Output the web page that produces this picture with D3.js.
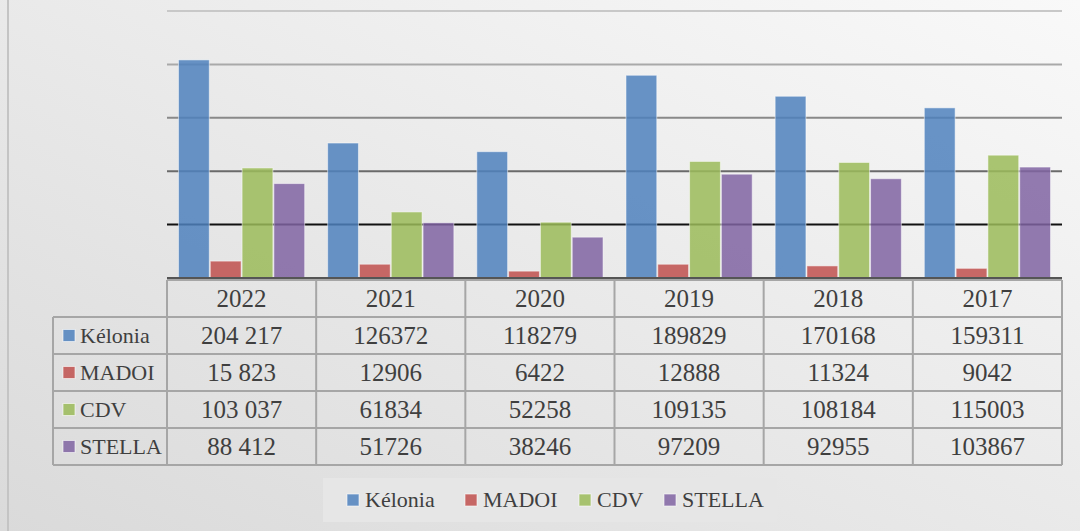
<!DOCTYPE html>
<html>
<head>
<meta charset="utf-8">
<script src="https://cdn.jsdelivr.net/npm/d3@7"></script>
<style>
  html, body { margin: 0; padding: 0; background: #fff; }
  svg { display: block; }
  text { font-family: "Liberation Serif", serif; fill: #3f3f3f; }
</style>
</head>
<body>
<svg id="chart" width="1080" height="531"></svg>
<script>
// --- data ----------------------------------------------------------------
const years  = ["2022", "2021", "2020", "2019", "2018", "2017"];
const series = ["Kélonia", "MADOI", "CDV", "STELLA"];

const kelonia = [204217, 126372, 118279, 189829, 170168, 159311];
const madoi   = [15823, 12906, 6422, 12888, 11324, 9042];
const cdv     = [103037, 61834, 52258, 109135, 108184, 115003];
const stella  = [88412, 51726, 38246, 97209, 92955, 103867];

const yTicks  = [50000, 100000, 150000, 200000, 250000];
const spacedYears = ["2022"]; // this column is written with a space as thousands separator

const colours = ["#4f81bd", "#c0504d", "#9bbb59", "#8064a2"];

const values = [kelonia, madoi, cdv, stella];
const rows = years.map((y, i) => ({ year: y, vals: series.map((s, j) => ({ key: s, v: values[j][i] })) }));

//-------------------------------------------------------------------------------

const svg = d3.select('#chart');
const W = 1080, H = 531;
const plot = { left: 167, right: 1062, top: 11, bottom: 278 };
const rowH = 37, tableLeft = 53;
const fsNum = 25, fsName = 22;

// background gradient, lighter top right
const defs = svg.append('defs');
const bg = defs.append('linearGradient').attr('id', 'bg')
    .attr('x1', '100%').attr('y1', '0%').attr('x2', '0%').attr('y2', '100%');
bg.append('stop').attr('offset', '0%').attr('stop-color', '#f9f9f9');
bg.append('stop').attr('offset', '100%').attr('stop-color', '#dadada');
svg.append('rect').attr('width', W).attr('height', H).attr('fill', 'url(#bg)');

svg.append('line')
    .attr('x1', 8).attr('x2', 8).attr('y1', 0).attr('y2', H)
    .attr('stroke', '#c4c4c4').attr('stroke-width', 2);

const x0 = d3.scaleBand().domain(years).range([plot.left, plot.right]);
const x1 = d3.scaleBand().domain(series).range([0, x0.bandwidth()]).paddingOuter(0.345);
const y  = d3.scaleLinear().domain([0, 250000]).range([plot.bottom, plot.top]);
const colour = d3.scaleOrdinal().domain(series).range(colours);

// gridlines get darker towards the bottom
const gridColour = d3.scaleLinear().domain([50000, 100000, 250000]).range(['#111', '#6a6a6a', '#c8c8c8']);

svg.append('g').selectAll('line')
    .data(yTicks)
    .join('line')
    .attr('x1', plot.left).attr('x2', plot.right)
    .attr('y1', d => y(d)).attr('y2', d => y(d))
    .attr('stroke', d => gridColour(d))
    .attr('stroke-width', 2);

// bars
svg.append('g').selectAll('g')
    .data(rows)
    .join('g')
    .attr('transform', d => `translate(${x0(d.year)},0)`)
    .selectAll('rect')
    .data(d => d.vals)
    .join('rect')
    .attr('x', d => x1(d.key) + 0.5)
    .attr('width', x1.bandwidth() - 1)
    .attr('y', d => y(d.v))
    .attr('height', d => y(0) - y(d.v))
    .attr('fill', d => colour(d.key))
    .attr('fill-opacity', 0.85)
    .attr('stroke', '#ffffff')
    .attr('stroke-opacity', 0.5)
    .attr('stroke-width', 1);

// --- data table under the plot -------------------------------------------
const tbl = svg.append('g');
const grid = '#a6a6a6';
const tableTop = plot.bottom + 2;
const tableBottom = tableTop + rowH * (series.length + 1);

// horizontal rules
tbl.selectAll('line.h')
    .data(d3.range(series.length + 2))
    .join('line')
    .attr('class', 'h')
    .attr('x1', i => i < 1 ? plot.left : tableLeft)
    .attr('x2', plot.right)
    .attr('y1', i => tableTop + i * rowH).attr('y2', i => tableTop + i * rowH)
    .attr('stroke', grid).attr('stroke-width', 2);

// vertical rules
const vx = years.map(d => x0(d)).concat([plot.right]);
tbl.selectAll('line.v')
    .data(vx)
    .join('line')
    .attr('class', 'v')
    .attr('x1', d => d).attr('x2', d => d)
    .attr('y1', tableTop).attr('y2', tableBottom)
    .attr('stroke', grid).attr('stroke-width', 2);

tbl.append('line')
    .attr('x1', tableLeft).attr('x2', tableLeft)
    .attr('y1', tableTop + rowH).attr('y2', tableBottom)
    .attr('stroke', grid).attr('stroke-width', 2);

// axis line over the top of the table
svg.append('line')
    .attr('x1', plot.left).attr('x2', plot.right)
    .attr('y1', plot.bottom).attr('y2', plot.bottom)
    .attr('stroke', '#555').attr('stroke-width', 2);

// year header
tbl.selectAll('text.year')
    .data(years)
    .join('text')
    .attr('class', 'year')
    .attr('x', d => x0(d) + x0.bandwidth() / 2)
    .attr('y', tableTop + rowH / 2)
    .attr('dy', '0.34em')
    .attr('text-anchor', 'middle')
    .attr('font-size', fsNum)
    .text(d => d);

// row labels with swatches
const rowLab = tbl.selectAll('g.rowlab')
    .data(series)
    .join('g')
    .attr('class', 'rowlab')
    .attr('transform', (d, i) => `translate(0,${tableTop + (i + 1) * rowH + rowH / 2})`);

rowLab.append('rect')
    .attr('x', 63).attr('y', -6).attr('width', 12).attr('height', 12)
    .attr('fill', d => colour(d)).attr('fill-opacity', 0.85)
    .attr('stroke', '#fff').attr('stroke-opacity', 0.6);

rowLab.append('text')
    .attr('x', 80).attr('dy', '0.34em')
    .attr('font-size', fsName)
    .text(d => d);

// cell values
const spaced = d3.formatLocale({ decimal: ',', thousands: ' ', grouping: [3], currency: ['', ''] }).format(',d');
const plain = d3.format('d');

series.forEach((s, j) => {
    tbl.append('g').selectAll('text')
        .data(rows)
        .join('text')
        .attr('x', d => x0(d.year) + x0.bandwidth() / 2)
        .attr('y', tableTop + (j + 1) * rowH + rowH / 2)
        .attr('dy', '0.34em')
        .attr('text-anchor', 'middle')
        .attr('font-size', fsNum)
        .text(d => spacedYears.includes(d.year) ? spaced(d.vals[j].v) : plain(d.vals[j].v));
});

// --- legend ---------------------------------------------------------------
const lg = svg.append('g');
lg.append('rect')
    .attr('x', 323).attr('y', 478).attr('width', 454).attr('height', 44)
    .attr('fill', '#e6e6e6');

const legendX = [347, 465, 579, 664];
const li = lg.selectAll('g.item')
    .data(series)
    .join('g')
    .attr('class', 'item')
    .attr('transform', (d, i) => `translate(${legendX[i]},500)`);

li.append('rect')
    .attr('x', 0).attr('y', -6).attr('width', 12).attr('height', 12)
    .attr('fill', d => colour(d)).attr('fill-opacity', 0.85)
    .attr('stroke', '#fff').attr('stroke-opacity', 0.6);

li.append('text')
    .attr('x', 18).attr('dy', '0.34em')
    .attr('font-size', fsName)
    .text(d => d);
</script>
</body>
</html>
